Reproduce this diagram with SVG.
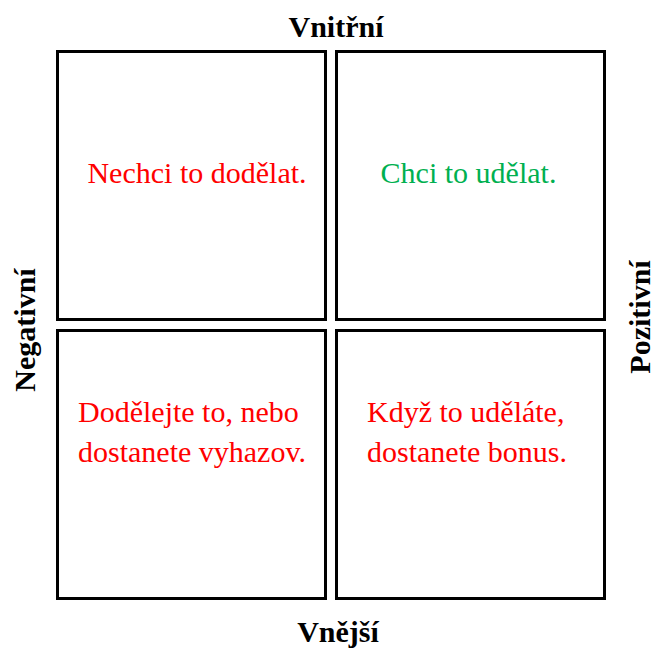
<svg xmlns="http://www.w3.org/2000/svg" width="656" height="650" viewBox="0 0 656 650">
<style>
.box{fill:#fff;stroke:#000;stroke-width:3}
.hdr{font-weight:bold;font-size:30px;fill:#000}
.q{font-size:30px;fill:#ff0000}
.g{fill:#00b050}
</style>
<rect width="656" height="650" fill="#fff"/>
<g font-family="'Liberation Serif', 'Times New Roman', 'DejaVu Serif', serif">
<g id="q-tl"><rect class="box" x="57.5" y="51.5" width="268" height="268"/><text class="q" x="197" y="183" text-anchor="middle">Nechci to dodělat.</text></g>
<g id="q-tr"><rect class="box" x="336.5" y="51.5" width="268" height="268"/><text class="q g" x="468.5" y="183" text-anchor="middle">Chci to udělat.</text></g>
<g id="q-bl"><rect class="box" x="57.5" y="330.5" width="268" height="268"/><text class="q" x="78" y="422">Dodělejte to, nebo</text><text class="q" x="78" y="462">dostanete vyhazov.</text></g>
<g id="q-br"><rect class="box" x="336.5" y="330.5" width="268" height="268"/><text class="q" x="367" y="422">Když to uděláte,</text><text class="q" x="367" y="462">dostanete bonus.</text></g>
<g id="labels">
<text class="hdr" x="336" y="37" text-anchor="middle">Vnitřní</text>
<text class="hdr" x="338" y="642" text-anchor="middle">Vnější</text>
<text class="hdr" transform="translate(35,330) rotate(-90)" text-anchor="middle">Negativní</text>
<text class="hdr" transform="translate(650,317) rotate(-90)" text-anchor="middle">Pozitivní</text>
</g>
</g>
</svg>
